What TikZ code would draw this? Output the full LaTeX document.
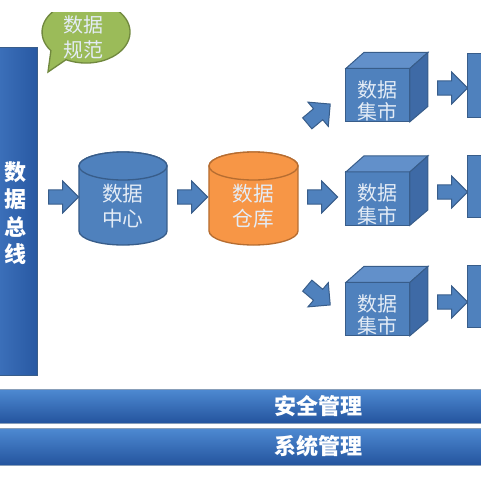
\documentclass[tikz,border=0pt]{standalone}
\usepackage{fontspec}
\newfontfamily\cjk{Noto Sans CJK SC}
\usetikzlibrary{shapes.arrows}

\definecolor{fillblue}{RGB}{79,129,189}
\definecolor{lineblue}{RGB}{56,93,138}
\definecolor{cubetop}{RGB}{98,144,202}
\definecolor{cubeside}{RGB}{62,106,166}
\definecolor{orangefill}{RGB}{247,150,70}
\definecolor{orangeline}{RGB}{182,109,49}
\definecolor{bubblegreen}{RGB}{155,187,89}
\definecolor{bubbleline}{RGB}{113,137,63}
\definecolor{bartop}{RGB}{78,138,210}
\definecolor{barbottom}{RGB}{36,84,158}
\definecolor{buscolor}{RGB}{60,112,186}
\definecolor{labelwhite}{RGB}{228,236,246}

\begin{document}
\begin{tikzpicture}[x=0.75pt,y=0.75pt,yscale=-1,xscale=1,
  blockarrow/.style={single arrow, draw=lineblue, fill=fillblue, line width=0.75, inner xsep=0pt, inner ysep=5pt, minimum height=22.5pt, single arrow head extend=6.5pt, outer sep=0pt},
  cjklabel/.style={font=\cjk\fontsize{15}{18}\selectfont, text=labelwhite, align=center, inner sep=0.75pt},
  cubefront/.style={draw=lineblue, fill=fillblue, line width=0.75, minimum width=48pt, minimum height=40pt, outer sep=0pt, inner sep=0pt},
  barlabel/.style={font=\cjk\bfseries\fontsize{16.5}{20}\selectfont, text=white, inner sep=0.75pt}]
\useasboundingbox (0,0) rectangle (480,480);

%Shape: Rectangle [id:bus]
\draw [draw=lineblue, left color=buscolor, right color=barbottom!85!buscolor, line width=0.75] (-2,47) rectangle (38,375) ;
% Text Node
\node [cjklabel, font=\cjk\bfseries\fontsize{16.5}{20.6}\selectfont, text=white] (bus) at (16,213) {数\\据\\总\\线};

%Shape: Speech Bubble [id:norm]
\begin{scope}
\clip (0,12) rectangle (480,480);
\draw [draw=bubbleline, fill=bubblegreen, line width=1] (50.9,50.7) arc (143:477:44 and 31) -- (48,72) -- cycle ;
\end{scope}
% Text Node
\node [cjklabel, font=\cjk\fontsize{15}{18.75}\selectfont] (norm) at (84,37.5) {数据\\规范};

%Shape: Can [id:dc]
\draw [draw=lineblue, fill=fillblue, line width=1] (79,166) -- (79,231) arc (180:0:44 and 14) -- (167,166) arc (0:-180:44 and 14) -- cycle ;
\draw [draw=lineblue, fill=fillblue, line width=1] (123,166) ellipse (44 and 14) ;
% Text Node
\node [cjklabel, font=\cjk\fontsize{15.5}{18.75}\selectfont] (dc) at (123,206) {数据\\中心};

%Shape: Can [id:dw]
\draw [draw=orangeline, fill=orangefill, line width=1] (209,166) -- (209,231) arc (180:0:44.5 and 14) -- (298,166) arc (0:-180:44.5 and 14) -- cycle ;
\draw [draw=orangeline, fill=orangefill, line width=1] (253.5,166) ellipse (44.5 and 14) ;
% Text Node
\node [cjklabel, font=\cjk\fontsize{15.5}{18.75}\selectfont] (dw) at (253.5,206) {数据\\仓库};

%Shape: Right Arrow
\node [blockarrow] (a1) at (60,197) {};
\node [blockarrow] (a2) at (189,197) {};
\node [blockarrow] (a3) at (319,197) {};
\node [blockarrow, rotate=40] (a4) at (316,116) {};
\node [blockarrow, rotate=-40] (a5) at (316,293) {};

%Shape: Cube [id:dm1]
\node [cubefront] (dm1) at (378,95) {};
\draw [draw=lineblue, fill=cubetop, line width=0.75] (dm1.north west) -- ++(18,-16) -- ++(64,0) -- (dm1.north east) -- cycle ;
\draw [draw=lineblue, fill=cubeside, line width=0.75] (dm1.north east) -- ++(18,-16) -- ++(0,54) -- (dm1.south east) -- cycle ;
\node [cjklabel, font=\cjk\fontsize{15}{17}\selectfont] at ([yshift=4.5pt]dm1.center) {数据\\集市};

%Shape: Cube [id:dm2]
\node [cubefront] (dm2) at (378,198.5) {};
\draw [draw=lineblue, fill=cubetop, line width=0.75] (dm2.north west) -- ++(18,-16) -- ++(64,0) -- (dm2.north east) -- cycle ;
\draw [draw=lineblue, fill=cubeside, line width=0.75] (dm2.north east) -- ++(18,-16) -- ++(0,54) -- (dm2.south east) -- cycle ;
\node [cjklabel, font=\cjk\fontsize{15}{17}\selectfont] at ([yshift=4.5pt]dm2.center) {数据\\集市};

%Shape: Cube [id:dm3]
\node [cubefront] (dm3) at (378,309) {};
\draw [draw=lineblue, fill=cubetop, line width=0.75] (dm3.north west) -- ++(18,-16) -- ++(64,0) -- (dm3.north east) -- cycle ;
\draw [draw=lineblue, fill=cubeside, line width=0.75] (dm3.north east) -- ++(18,-16) -- ++(0,54) -- (dm3.south east) -- cycle ;
\node [cjklabel, font=\cjk\fontsize{15}{17}\selectfont] at ([yshift=4.5pt]dm3.center) {数据\\集市};

%Shape: Right Arrow
\node [blockarrow] (b1) at (449,88) {};
\node [blockarrow] (b2) at (449,192) {};
\node [blockarrow] (b3) at (449,302) {};

%Shape: Rectangle
\node [cubefront, anchor=north west, minimum height=48pt, minimum width=30pt] (r1) at (468,53) {};
\node [cubefront, anchor=north west, minimum height=47pt, minimum width=30pt] (r2) at (468,155) {};
\node [cubefront, anchor=north west, minimum height=47pt, minimum width=30pt] (r3) at (468,265) {};

%Shape: Rectangle [id:security]
\draw [draw=lineblue!60!white, top color=bartop, bottom color=barbottom, line width=0.75] (-2,389) rectangle (482,423) ;
% Text Node
\node [barlabel] (sec) at (319,406) {安全管理};

%Shape: Rectangle [id:system]
\draw [draw=lineblue!60!white, top color=bartop, bottom color=barbottom, line width=0.75] (-2,428) rectangle (482,465) ;
% Text Node
\node [barlabel] (sys) at (319,446.5) {系统管理};

\end{tikzpicture}
\end{document}
